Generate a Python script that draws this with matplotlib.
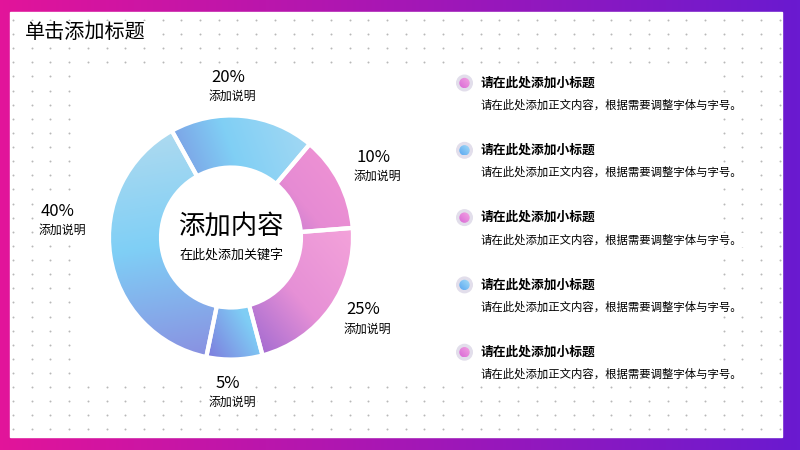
import numpy as np
import matplotlib.pyplot as plt
from matplotlib.patches import Rectangle, Circle
from matplotlib.colors import to_rgb

plt.rcParams['font.family'] = ['Noto Sans CJK SC', 'DejaVu Sans']

# Daten (Reihenfolge im Uhrzeigersinn ab oben links)
labels = ['20%', '10%', '25%', '5%', '40%']
values = [19.2, 12.6, 22.1, 7.4, 38.7]
desc = '添加说明'
title = '单击添加标题'
center_big = '添加内容'
center_small = '在此处添加关键字'
item_titles = ['请在此处添加小标题'] * 5
item_texts = ['请在此处添加正文内容，根据需要调整字体与字号。'] * 5

# Farben: (dunkel, mitte, hell) + Richtung des Verlaufs
grad = [(['#7a86dc', '#80cff5', '#a6d9f3'], 20),
        (['#9a6ccf', '#e68bd3', '#f295d4'], 40),
        (['#8d5fcf', '#e690d6', '#f4a3da'], 40),
        (['#7d78dc', '#7fcdf5', '#8ad3f4'], 30),
        (['#8a8ee0', '#7fcff6', '#b2dbef'], 100)]
bullet_cols = [['#d866d6', '#f4a6e2'], ['#58a6f0', '#a8def8']]

W, H = 800, 450
def Y(y):
    return H - y   # Pixel (von oben) -> Daten

def gradient_fill(ax, patch, stops, ang, z):
    v = patch.get_patch_transform().transform(patch.get_path().vertices)
    x0, x1 = v[:, 0].min(), v[:, 0].max()
    y0, y1 = v[:, 1].min(), v[:, 1].max()
    xx, yy = np.meshgrid(np.linspace(x0, x1, 120), np.linspace(y0, y1, 120))
    c, s = np.cos(np.radians(ang)), np.sin(np.radians(ang))
    t = xx * c + yy * s
    t = (t - t.min()) / (t.max() - t.min())
    cols = np.array([to_rgb(k) for k in stops])
    pos = np.linspace(0, 1, len(stops))
    img = np.dstack([np.interp(t, pos, cols[:, i]) for i in range(3)])
    im = ax.imshow(img, extent=[x0, x1, y0, y1], origin='lower', zorder=z,
                   interpolation='bilinear')
    im.set_clip_path(patch)


fig = plt.figure(figsize=(8, 4.5), dpi=100)
ax = fig.add_axes([0, 0, 1, 1])

# Rahmen mit Farbverlauf
bg = np.linspace(0, 1, 256)[None, :]
c1, c2 = np.array(to_rgb('#e2149a')), np.array(to_rgb('#6a1ad0'))
bgimg = c1[None, None, :] * (1 - bg[..., None]) + c2[None, None, :] * bg[..., None]
ax.imshow(bgimg, extent=[0, W, 0, H], aspect='auto', zorder=0)
ax.add_patch(Rectangle((10, Y(437)), 772, 425, color='white', zorder=1))

# Punktraster
gx, gy = np.meshgrid(13 + 18.7 * np.arange(42), 20 + 14.12 * np.arange(30))
ax.scatter(gx.ravel(), Y(gy.ravel()), s=2.0, color='#b8b8b8', lw=0, zorder=2)
ax.add_patch(Rectangle((78, Y(381)), 636, 311, color='white', zorder=2.5))

# Donut
wedges, _ = ax.pie(values, startangle=119, counterclock=False, radius=122,
                   center=(231, Y(237.5)), frame=True,
                   wedgeprops=dict(width=52, edgecolor='white', linewidth=3,
                                   facecolor='none', zorder=4))
for w, (st, ang) in zip(wedges, grad):
    gradient_fill(ax, w, st, ang, 3)

box = dict(facecolor='white', edgecolor='none', pad=1)
ax.text(25, Y(33), title, fontsize=14.5, va='center', ha='left', zorder=5, bbox=box)
ax.text(231, Y(226), center_big, fontsize=19, ha='center', va='center', zorder=5)
ax.text(231, Y(255), center_small, fontsize=9.4, ha='center', va='center', zorder=5)

lab_pos = [(228, 77), (373, 157), (363, 310), (228, 383), (58, 211)]
for lab, (lx, ly) in zip(labels, lab_pos):
    ax.text(lx, Y(ly), lab, fontsize=12, ha='center', va='center', zorder=5, bbox=box)
    ax.text(lx + 4, Y(ly + 19.5), desc, fontsize=8.6, ha='center', va='center',
            zorder=5, bbox=box)

# Liste rechts
for i, (tt, tx) in enumerate(zip(item_titles, item_texts)):
    yy = 83 + 67.3 * i
    ax.add_patch(Circle((464.5, Y(yy)), 7.8, color='#e2deeb', zorder=4))
    dot = Circle((464.5, Y(yy)), 5.2, facecolor='none', edgecolor='none', zorder=5)
    ax.add_patch(dot)
    gradient_fill(ax, dot, bullet_cols[i % 2], 45, 5)
    ax.text(481, Y(yy), tt, fontsize=9.2, fontweight='bold', ha='left',
            va='center', zorder=5)
    ax.text(481, Y(yy + 22), tx, fontsize=8.2, ha='left', va='center',
            zorder=5, bbox=box)

ax.set_xlim(0, W)
ax.set_ylim(0, H)
ax.set_aspect('auto')
ax.axis('off')

plt.savefig('out.png', dpi=100)
